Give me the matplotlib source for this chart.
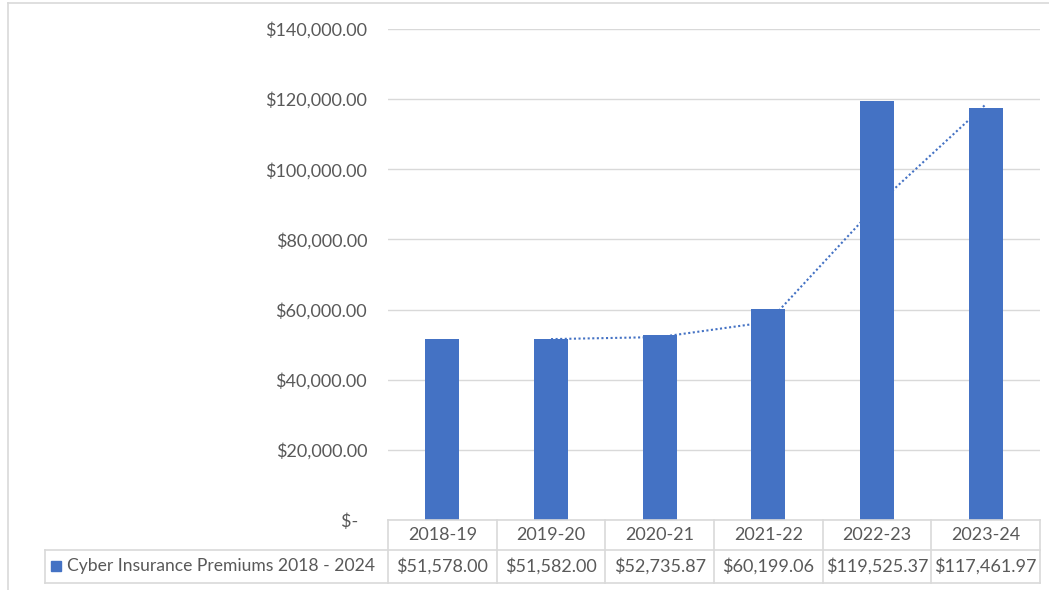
import numpy as np
import matplotlib.pyplot as plt
from matplotlib.lines import Line2D
from matplotlib.patches import Rectangle
from matplotlib.ticker import FuncFormatter

years = ["2018-19", "2019-20", "2020-21", "2021-22", "2022-23", "2023-24"]
premiums = [51578.00, 51582.00, 52735.87, 60199.06, 119525.37, 117461.97]
series_name = "Cyber Insurance Premiums 2018 - 2024"

blue = "#4472C4"
grey = "#D9D9D9"
txt = "#595959"
plt.rcParams["font.family"] = ["Lato", "DejaVu Sans"]
fs = 13

W, H = 1049, 590
fig = plt.figure(figsize=(W / 100, H / 100), dpi=100)


def fx(px):
    return px / W


def fy(py):
    return 1 - py / H


# plot area in pixels
left, right, top, bottom = 388, 1040, 29, 520
ax = fig.add_axes([fx(left), fy(bottom), fx(right) - fx(left), fy(top) - fy(bottom)])

x = np.arange(len(years))
ax.bar(x, premiums, width=0.31, color=blue, zorder=3)

# 2-period moving average trendline
ma = np.convolve(premiums, [0.5, 0.5], mode="valid")
ax.plot(x[1:], ma, ls=(0, (1, 1.2)), color=blue, lw=1.5, zorder=2)

ax.set_xlim(-0.5, len(years) - 0.5)
ax.set_ylim(0, 140000)
ax.set_yticks(np.arange(0, 140001, 20000))
ax.yaxis.set_major_formatter(FuncFormatter(lambda v, p: "$-  " if v == 0 else f"${v:,.2f}"))
ax.tick_params(axis="y", length=0, pad=15, labelsize=fs, labelcolor=txt)
ax.set_xticks([])
for s in ax.spines.values():
    s.set_visible(False)
ax.grid(axis="y", color=grey, lw=1, zorder=0)
ax.set_axisbelow(True)

# data table under the axis
colw = (right - left) / len(years)
row1, row2, row3 = bottom, 550, 583
lab_left = 45


def hline(py, xa, xb):
    fig.add_artist(Line2D([fx(xa), fx(xb)], [fy(py), fy(py)], color=grey, lw=1.2))


def vline(px, ya, yb):
    fig.add_artist(Line2D([fx(px), fx(px)], [fy(ya), fy(yb)], color=grey, lw=1.2))


hline(row1, left, right)
hline(row2, lab_left, right)
hline(row3, lab_left, right)
vline(lab_left, row2, row3)
for k in range(len(years) + 1):
    vline(left + k * colw, row1, row3)

for i, (yr, val) in enumerate(zip(years, premiums)):
    cx = left + (i + 0.5) * colw
    fig.text(fx(cx), fy((row1 + row2) / 2), yr, ha="center", va="center",
             fontsize=fs, color=txt)
    fig.text(fx(cx), fy((row2 + row3) / 2), f"${val:,.2f}", ha="center",
             va="center", fontsize=fs, color=txt)

fig.add_artist(Rectangle((fx(51), fy(571)), fx(10), fy(561) - fy(571),
                         color=blue, transform=fig.transFigure))
fig.text(fx(67), fy((row2 + row3) / 2), series_name, ha="left", va="center",
         fontsize=12.6, color=txt)

# chart area border
fig.add_artist(Line2D([fx(8), fx(8)], [fy(3), 0], color=grey, lw=1.2))
fig.add_artist(Line2D([fx(8), 1], [fy(3), fy(3)], color=grey, lw=1.2))

fig.savefig("out.png", dpi=100)
